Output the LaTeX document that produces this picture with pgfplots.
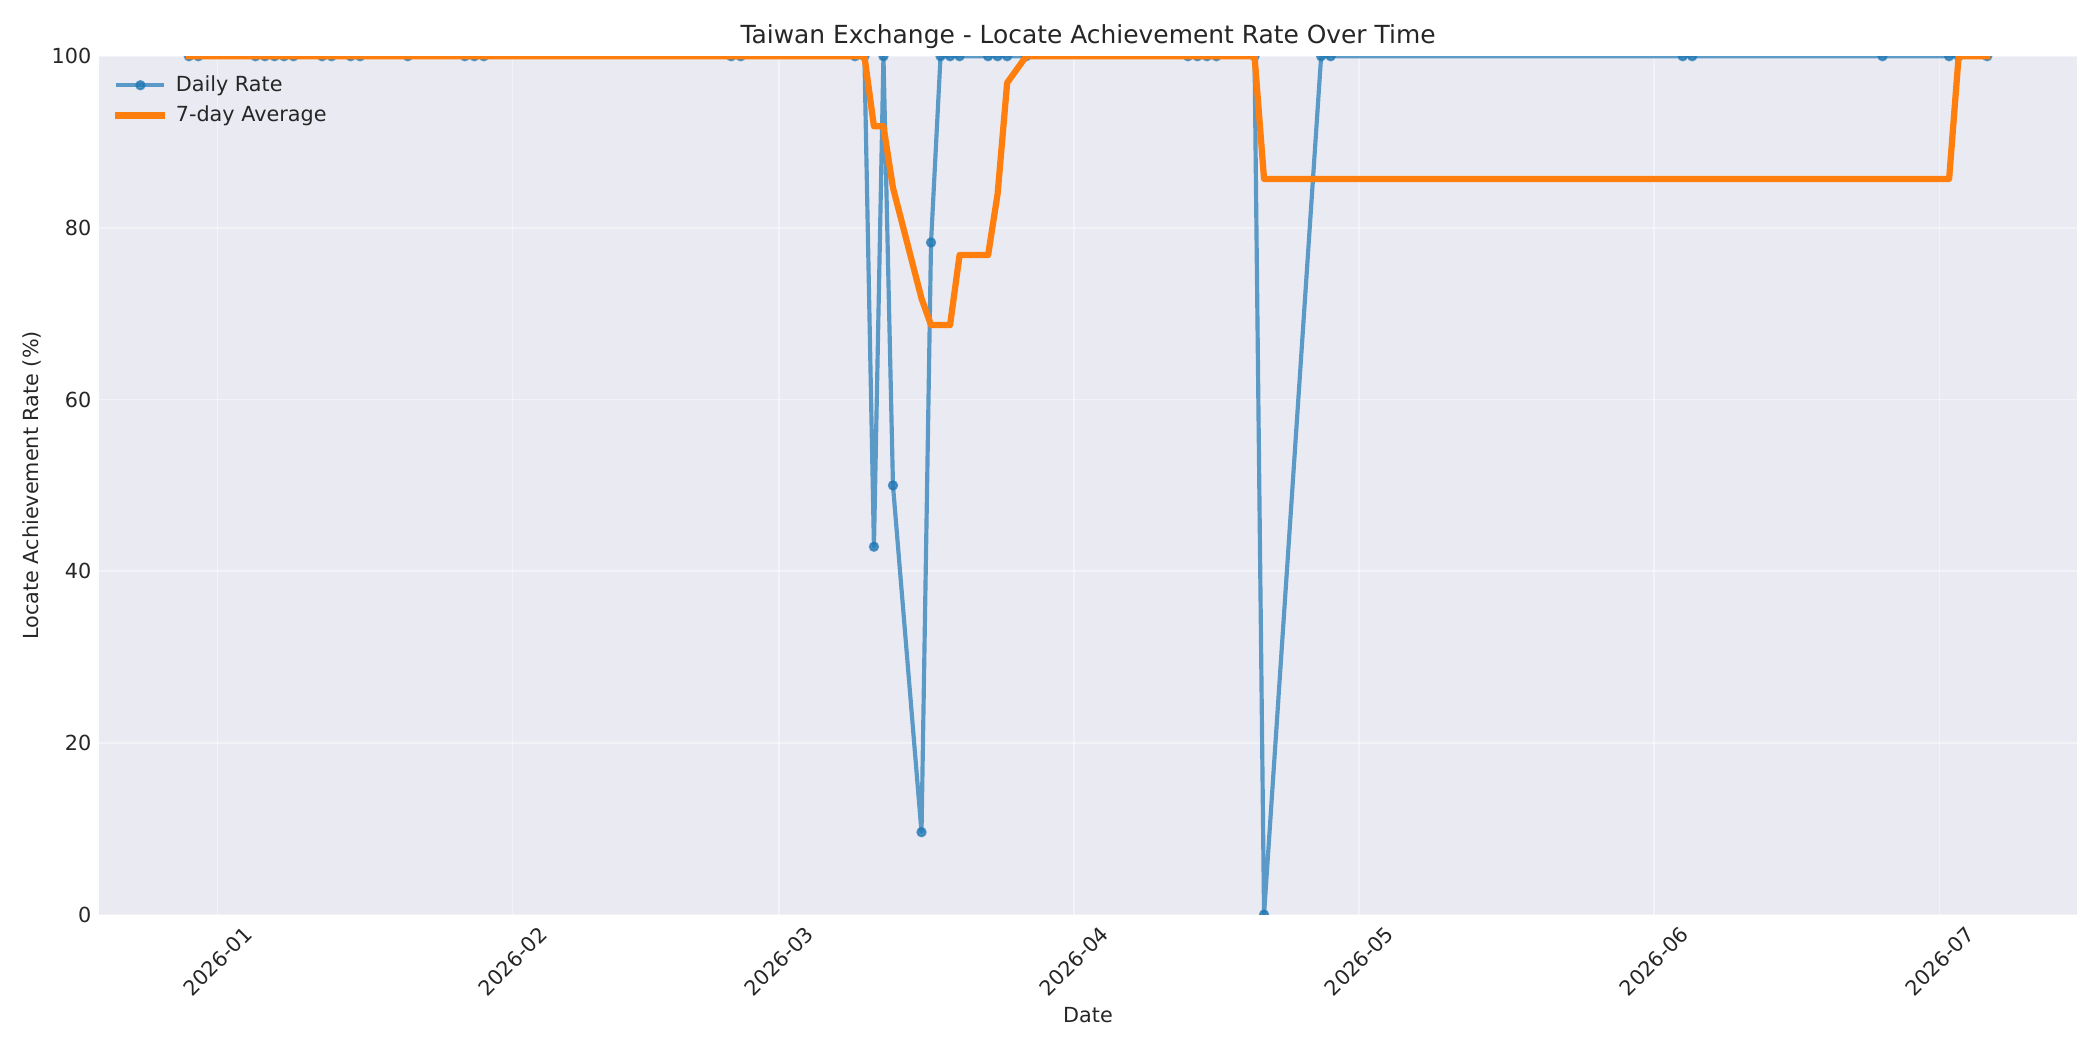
\documentclass[border=0pt]{standalone}
\usepackage{fontspec}
\setmainfont{DejaVu Sans}
\usepackage{pgfplots}
\pgfplotsset{compat=1.18}
\definecolor{bgc}{HTML}{EAEAF2}
\definecolor{txt}{HTML}{262626}
\definecolor{mblue}{HTML}{1F77B4}
\definecolor{morange}{HTML}{FF7F0E}

% days counted from 2026-01-01
\pgfplotstableread{
d rate
-3 100
-2 100
4 100
5 100
6 100
7 100
8 100
11 100
12 100
14 100
15 100
20 100
26 100
27 100
28 100
54 100
55 100
67 100
68 100
69 42.86
70 100
71 50
74 9.6
75 78.3
76 100
77 100
78 100
81 100
82 100
83 100
85 100
102 100
103 100
104 100
105 100
109 100
110 0
116 100
117 100
154 100
155 100
175 100
182 100
183 100
186 100
}\daily

\pgfplotstableread{
d avg
-3 100
68 100
69 91.84
70 91.84
71 84.69
74 71.78
75 68.68
76 68.68
77 68.68
78 76.84
81 76.84
82 83.99
83 96.90
85 100
109 100
110 85.71
116 85.71
117 85.71
154 85.71
155 85.71
175 85.71
182 85.71
183 100
186 100
}\weekly

\begin{document}
\begin{tikzpicture}
\useasboundingbox (0,0) rectangle (1008bp,504bp);
\begin{axis}[
  at={(47.5bp,65bp)}, anchor=south west,
  scale only axis, width=949.5bp, height=412bp,
  xmin=-12.45, xmax=195.45, ymin=0, ymax=100,
  clip marker paths=true,
  axis background/.style={fill=bgc},
  axis line style={draw=none},
  major tick length=0pt,
  grid=major,
  grid style={white, line width=0.8bp, opacity=0.45},
  xtick={0,31,59,90,120,151,181},
  xticklabels={2026-01,2026-02,2026-03,2026-04,2026-05,2026-06,2026-07},
  ytick={0,20,40,60,80,100},
  /pgf/number format/assume math mode=true,
  tick label style={font=\fontsize{10}{12}\selectfont, text=txt},
  xticklabel style={rotate=45, anchor=center, inner sep=0pt},
  xticklabel shift=22.3bp,
  yticklabel style={anchor=east, inner sep=0pt},
  yticklabel shift=3.5bp,
  title={Taiwan Exchange - Locate Achievement Rate Over Time},
  title style={at={(axis description cs:0.5,1)}, anchor=base, yshift=0.3bp,
    inner sep=0pt, font=\fontsize{12}{14}\selectfont, text=txt},
  xlabel={Date},
  xlabel style={at={(axis description cs:0.5,0)}, anchor=center, yshift=-48bp,
    inner sep=0pt, font=\fontsize{10}{12}\selectfont, text=txt},
  ylabel={Locate Achievement Rate (\%)},
  ylabel style={at={(axis description cs:-0.0338,0.5)}, anchor=center, rotate=0,
    inner sep=0pt, font=\fontsize{10}{12}\selectfont, text=txt},
  legend cell align=left,
  legend style={at={(axis description cs:0,1)}, anchor=north west,
    xshift=7.7bp, yshift=-9.2bp, draw=none, fill=none,
    font=\fontsize{10}{12}\selectfont, text=txt,
    row sep=5.4bp, inner sep=0pt,
    nodes={inner sep=0pt},
    /tikz/every odd column/.append style={column sep=5bp}},
  legend image code/.code={\draw[mark repeat=2,mark phase=2,line cap=rect,#1]
    plot coordinates {(0bp,0bp)(10.5bp,0bp)(21bp,0bp)};},
]
\addplot[color=mblue, opacity=0.7, line width=2bp, line join=round, line cap=rect,
  mark=*, mark size=2bp, mark options={line width=1bp}]
  table[x=d, y=rate] {\daily};
\addlegendentry{Daily Rate}
\addplot[color=morange, line width=3bp, line join=round, line cap=rect, no marks]
  table[x=d, y=avg] {\weekly};
\addlegendentry{7-day Average}
\end{axis}
\end{tikzpicture}
\end{document}
